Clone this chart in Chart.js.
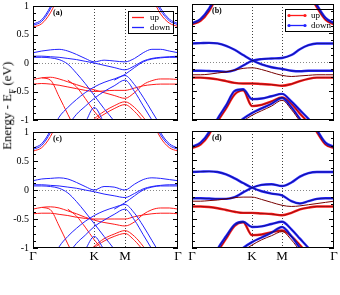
<!DOCTYPE html>
<html>
<head>
<meta charset="utf-8">
<script src="https://cdn.jsdelivr.net/npm/chart.js@4.4.1/dist/chart.umd.min.js"></script>
<style>
  body { margin: 0; background: #fff; width: 340px; height: 295px; position: relative; overflow: hidden; }
  canvas { position: absolute; }
  #ylab { position: absolute; left: -42px; top: 97px; width: 100px; line-height: 16px; text-align: center;
          transform: rotate(-90deg); font: 13px "Liberation Serif"; white-space: nowrap; }
  #ylab sub { font-size: 9px; }
</style>
</head>
<body>
<canvas id="pa" width="180" height="134" style="left:0;top:-4px"></canvas>
<canvas id="pb" width="160" height="134" style="left:180px;top:-4px"></canvas>
<canvas id="pc" width="186" height="173" style="left:0;top:122px"></canvas>
<canvas id="pd" width="160" height="173" style="left:180px;top:122px"></canvas>
<div id="ylab">Energy - E<sub>F</sub> (eV)</div>
<script>
const _ = null;
// k path Γ-K-M-Γ (fraction of total length)
const kGrid = [0, 0.06, 0.12, 0.18, 0.24, 0.30, 0.36, 0.4226, 0.49, 0.56, 0.634, 0.70, 0.76, 0.82, 0.88, 0.94, 1];
const kTicks = [0, 0.4226, 0.634, 1];
const kLabels = ['Γ', 'K', 'M', 'Γ'];
const eTicks = [1, 0.5, 0, -0.5, -1];

// panel (a)
const aDown = [
  [0.66, 0.73, 0.95, 1.3, _, _, _, _, _, _, _, _, _, 1.2, 0.92, 0.74, 0.67],
  [0.68, 0.76, 0.99, 1.35, _, _, _, _, _, _, _, _, _, 1.25, 0.96, 0.77, 0.69],
  [0.18, 0.21, 0.23, 0.24, 0.21, 0.15, 0.08, 0.02, 0.05, 0.035, 0.02, 0.08, 0.18, 0.24, 0.24, 0.21, 0.18],
  [0.12, 0.12, 0.11, 0.10, 0.08, 0.06, 0.03, 0.0, -0.04, -0.08, -0.12, -0.05, 0.035, 0.08, 0.10, 0.11, 0.12],
  [0.10, 0.10, 0.09, 0.06, -0.02, -0.18, -0.36, -0.57, -0.8, -1.02, -1.3, _, _, _, _, _, _],
  [_, _, _, _, _, _, _, _, _, -0.3, -0.2, -0.08, 0.02, 0.07, 0.09, 0.10, 0.10],
  [_, _, -1.25, -0.95, -0.78, -0.64, -0.52, -0.42, -0.34, -0.28, -0.22, -0.38, -0.6, -0.85, -1.1, _, _],
  [_, _, _, _, -1.1, -0.9, -0.76, -0.62, -0.5, -0.4, -0.3, -0.5, -0.75, -1.0, -1.25, _, _],
  [_, _, _, _, _, _, -1.05, -0.78, -1.05, _, _, _, _, _, _, _, _]
];
const aUp = [
  [0.63, 0.69, 0.88, 1.2, _, _, _, _, _, _, _, _, _, 1.15, 0.86, 0.70, 0.64],
  [-0.29, -0.26, -0.25, -0.28, -0.33, -0.38, -0.43, -0.47, -0.52, -0.57, -0.62, -0.52, -0.38, -0.31, -0.28, -0.28, -0.29],
  [-0.37, -0.36, -0.37, -0.39, -0.42, -0.45, -0.48, -0.50, -0.49, -0.48, -0.48, -0.44, -0.40, -0.38, -0.37, -0.37, -0.37],
  [_, -0.26, -0.30, -0.59, -0.9, -1.2, _, _, _, _, _, _, _, _, _, _, _],
  [_, _, _, _, _, _, -1.15, -0.98, -0.85, -0.75, -0.68, -0.78, -0.95, -1.15, _, _, _],
  [_, _, _, _, _, _, -1.2, -1.02, -0.9, -0.8, -0.73, -0.85, -1.02, -1.2, _, _, _],
  [_, _, _, _, -0.3, -0.42, -0.62, -0.85, -1.05, -1.3, _, _, _, _, _, _, _]
];

// panel (c)
const cDown = [
  [0.70, 0.77, 0.99, 1.35, _, _, _, _, _, _, _, _, _, 1.25, 0.95, 0.77, 0.70],
  [0.72, 0.80, 1.03, 1.4, _, _, _, _, _, _, _, _, _, 1.3, 0.99, 0.80, 0.72],
  [0.16, 0.19, 0.20, 0.21, 0.19, 0.13, 0.06, 0.0, 0.06, 0.05, 0.0, 0.1, 0.18, 0.21, 0.20, 0.18, 0.16],
  [0.09, 0.09, 0.08, 0.07, 0.05, 0.03, 0.0, -0.03, -0.07, -0.10, -0.13, -0.06, 0.02, 0.06, 0.08, 0.09, 0.09],
  [0.07, 0.07, 0.06, 0.03, -0.05, -0.2, -0.38, -0.58, -0.8, -1.02, -1.3, _, _, _, _, _, _],
  [_, _, _, _, _, _, _, _, _, -0.33, -0.22, -0.1, 0.0, 0.05, 0.07, 0.07, 0.07],
  [_, _, -1.28, -0.98, -0.8, -0.66, -0.54, -0.44, -0.36, -0.3, -0.25, -0.4, -0.62, -0.87, -1.12, _, _],
  [_, _, _, _, -1.12, -0.92, -0.78, -0.63, -0.52, -0.42, -0.33, -0.52, -0.77, -1.02, -1.27, _, _],
  [_, _, _, _, _, _, -1.03, -0.8, -1.03, _, _, _, _, _, _, _, _]
];
const cUp = [
  [0.67, 0.73, 0.92, 1.25, _, _, _, _, _, _, _, _, _, 1.2, 0.9, 0.73, 0.67],
  [-0.33, -0.30, -0.29, -0.31, -0.36, -0.41, -0.47, -0.52, -0.56, -0.59, -0.62, -0.55, -0.42, -0.34, -0.31, -0.31, -0.33],
  [-0.41, -0.40, -0.40, -0.42, -0.44, -0.47, -0.49, -0.50, -0.50, -0.50, -0.50, -0.46, -0.43, -0.41, -0.40, -0.40, -0.41],
  [_, -0.30, -0.34, -0.62, -0.93, -1.23, _, _, _, _, _, _, _, _, _, _, _],
  [_, _, _, _, _, _, -1.12, -0.97, -0.84, -0.76, -0.70, -0.8, -0.97, -1.17, _, _, _],
  [_, _, _, _, _, _, -1.18, -1.0, -0.88, -0.8, -0.75, -0.87, -1.04, -1.22, _, _, _],
  [_, _, _, _, -0.33, -0.45, -0.64, -0.86, -1.06, -1.3, _, _, _, _, _, _, _]
];

// panel (b) fat bands
const bDown = [
  [0.67, 0.74, 0.92, 1.2, _, _, _, _, _, _, _, _, _, 1.25, 0.98, 0.76, 0.67],
  [0.32, 0.325, 0.33, 0.32, 0.28, 0.21, 0.12, 0.03, -0.04, -0.09, -0.12, -0.15, -0.16, -0.15, -0.15, -0.15, -0.15],
  [-0.15, -0.15, -0.155, -0.16, -0.17, -0.14, -0.06, 0.02, 0.05, 0.06, 0.07, 0.12, 0.22, 0.29, 0.32, 0.32, 0.32],
  [_, _, -1.3, -0.98, -0.75, -0.5, -0.47, -0.64, -0.63, -0.59, -0.55, -0.68, -0.83, -0.98, -1.15, _, _],
  [_, _, _, _, _, -1.1, -0.98, -0.88, -0.8, -0.72, -0.62, -0.78, -0.98, -1.18, _, _, _]
];
const bUp = [
  [0.65, 0.71, 0.88, 1.15, _, _, _, _, _, _, _, _, _, 1.2, 0.94, 0.73, 0.65],
  [-0.27, -0.27, -0.28, -0.30, -0.33, -0.36, -0.37, -0.37, -0.38, -0.39, -0.41, -0.38, -0.33, -0.29, -0.27, -0.27, -0.27],
  [_, _, -1.35, -1.03, -0.8, -0.56, -0.49, -0.76, -0.74, -0.68, -0.61, -0.72, -0.89, -1.05, -1.25, _, _]
];
const bThin = [
  [-0.22, -0.22, -0.21, -0.19, -0.17, -0.14, -0.11, -0.10, -0.13, -0.18, -0.23, -0.25, -0.24, -0.23, -0.22, -0.22, -0.22],
  [_, _, _, _, _, -1.15, -1.02, -0.92, -0.84, -0.76, -0.66, -0.82, -1.02, -1.22, _, _, _]
];

// panel (d) fat bands
const dDown = [
  [0.73, 0.80, 0.98, 1.3, _, _, _, _, _, _, _, _, _, 1.3, 1.02, 0.80, 0.73],
  [0.30, 0.305, 0.31, 0.30, 0.26, 0.19, 0.11, 0.03, -0.03, -0.07, -0.10, -0.2, -0.24, -0.2, -0.16, -0.15, -0.15],
  [-0.15, -0.15, -0.155, -0.16, -0.16, -0.13, -0.05, 0.03, 0.08, 0.09, 0.06, 0.12, 0.22, 0.28, 0.30, 0.30, 0.30],
  [_, _, -1.32, -1.02, -0.8, -0.6, -0.55, -0.64, -0.63, -0.59, -0.55, -0.68, -0.84, -1.0, -1.18, _, _],
  [_, _, _, _, _, -1.12, -1.0, -0.9, -0.82, -0.74, -0.64, -0.8, -1.0, -1.2, _, _, _]
];
const dUp = [
  [0.71, 0.77, 0.94, 1.25, _, _, _, _, _, _, _, _, _, 1.25, 0.98, 0.77, 0.71],
  [-0.29, -0.29, -0.30, -0.32, -0.35, -0.38, -0.40, -0.40, -0.41, -0.42, -0.44, -0.40, -0.34, -0.31, -0.29, -0.29, -0.29],
  [_, _, -1.38, -1.07, -0.84, -0.62, -0.56, -0.78, -0.77, -0.73, -0.70, -0.8, -0.95, -1.12, -1.3, _, _]
];
const dThin = [
  [-0.20, -0.20, -0.19, -0.18, -0.16, -0.14, -0.13, -0.13, -0.17, -0.22, -0.27, -0.29, -0.28, -0.26, -0.24, -0.22, -0.20],
  [_, _, _, _, _, -1.17, -1.05, -0.95, -0.86, -0.79, -0.72, -0.86, -1.05, -1.25, _, _, _]
];

const RED = '#ff1a1a', BLUE = '#2222ff';

function line(band, color, width, order) {
  return {
    data: kGrid.map((k, i) => ({ x: k, y: band[i] })),
    borderColor: color, borderWidth: width, pointRadius: 0, order: order,
    cubicInterpolationMode: 'monotone', spanGaps: false, clip: 0, fill: false
  };
}
const thin = (bands, color) => bands.map(b => line(b, color, 1, 2));
const fat = (bands, color, order) => bands.map(b => line(b, color, 2.4, order))
  .concat(bands.map(b => line(b, 'rgba(0,0,0,0.8)', 0.5, 1)));

const frame = {
  id: 'frame',
  beforeDatasetsDraw(chart) {
    const { ctx, chartArea: a, scales: { x, y } } = chart;
    ctx.save();
    ctx.lineWidth = 1;
    ctx.setLineDash([1, 2]);
    ctx.strokeStyle = '#444';
    [kTicks[1], kTicks[2]].forEach(k => {
      const px = Math.round(x.getPixelForValue(k)) + 0.5;
      ctx.beginPath(); ctx.moveTo(px, a.top); ctx.lineTo(px, a.bottom); ctx.stroke();
    });
    ctx.strokeStyle = '#888';
    const py = Math.round(y.getPixelForValue(0)) + 0.5;
    ctx.beginPath(); ctx.moveTo(a.left, py); ctx.lineTo(a.right, py); ctx.stroke();
    ctx.restore();
  },
  afterDraw(chart, args, o) {
    const { ctx, chartArea: a, scales: { y } } = chart;
    ctx.save();
    ctx.strokeStyle = '#000';
    ctx.lineWidth = 1;
    ctx.strokeRect(a.left + 0.5, a.top + 0.5, a.right - a.left - 1, a.bottom - a.top - 1);
    // inward ticks on both sides
    for (let v = -1; v <= 1.001; v += 0.125) {
      const py = Math.round(y.getPixelForValue(v)) + 0.5;
      const len = Math.abs(v * 2 - Math.round(v * 2)) < 0.01 ? 5 : 3;
      ctx.beginPath();
      ctx.moveTo(a.left, py); ctx.lineTo(a.left + len, py);
      ctx.moveTo(a.right, py); ctx.lineTo(a.right - len, py);
      ctx.stroke();
    }
    ctx.fillStyle = '#000';
    ctx.font = 'bold 8px "Liberation Serif"';
    ctx.textBaseline = 'middle';
    ctx.fillText(o.label, a.left + 20, a.top + 7);
    if (o.legend) {
      const pts = o.legend === 'pts';
      const x1 = a.right - (pts ? 49 : 50), x2 = a.right - (pts ? 1 : 5);
      const y1 = a.top + 5;
      ctx.strokeStyle = '#000';
      ctx.strokeRect(x1 + 0.5, y1 + 0.5, x2 - x1, 22);
      ctx.font = '9px "Liberation Serif"';
      [['up', RED, 6], ['down', BLUE, 16]].forEach(([t, c, dy]) => {
        const ly = y1 + dy + 0.5;
        const lx1 = x1 + 4, lx2 = x1 + (pts ? 20 : 16);
        ctx.strokeStyle = c;
        ctx.lineWidth = 1.3;
        ctx.beginPath(); ctx.moveTo(lx1, ly); ctx.lineTo(lx2, ly); ctx.stroke();
        if (pts) {
          ctx.fillStyle = c;
          [lx1, lx2].forEach(px => { ctx.beginPath(); ctx.arc(px, ly, 1.6, 0, Math.PI * 2); ctx.fill(); });
        }
        ctx.fillStyle = '#000';
        ctx.fillText(t, x1 + (pts ? 26 : 22), ly);
      });
    }
    ctx.restore();
  }
};

function cfg(p) {
  return {
    type: 'line',
    data: { datasets: p.sets },
    options: {
      responsive: false, animation: false, events: [],
      layout: { padding: { top: p.top, right: p.right, left: 0, bottom: 0 } },
      plugins: { legend: { display: false }, tooltip: { enabled: false }, frame: { label: p.label, legend: p.legend } },
      scales: {
        x: {
          type: 'linear', min: 0, max: 1,
          grid: { display: false, drawTicks: false }, border: { display: false },
          afterBuildTicks: s => { s.ticks = kTicks.map(v => ({ value: v })); },
          ticks: { display: p.xLabels, autoSkip: false, maxRotation: 0, padding: 1, color: '#000',
                   font: { family: '"Liberation Serif"', size: 13 }, callback: (v, i) => kLabels[i] },
          afterFit: s => { s.height = p.xHeight; }
        },
        y: {
          type: 'linear', min: -1, max: 1,
          grid: { display: false, drawTicks: false }, border: { display: false },
          afterBuildTicks: s => { s.ticks = eTicks.map(v => ({ value: v })); },
          ticks: { display: p.yLabels, padding: 4, color: '#000',
                   font: { family: '"Liberation Serif"', size: 10 }, callback: v => String(v) },
          afterFit: s => { s.width = p.yWidth; }
        }
      }
    },
    plugins: [frame]
  };
}

new Chart(document.getElementById('pa'), cfg({
  sets: thin(aDown, BLUE).concat(thin(aUp, RED)),
  top: 8, right: 2, yWidth: 33, xHeight: 10, yLabels: true, xLabels: false, label: '(a)', legend: 'line'
}));
new Chart(document.getElementById('pb'), cfg({
  sets: fat(bDown, BLUE, 3).concat(fat(bUp, RED, 4), bThin.map(b => line(b, '#700', 1, 1))),
  top: 8, right: 6, yWidth: 12, xHeight: 10, yLabels: false, xLabels: false, label: '(b)', legend: 'pts'
}));
new Chart(document.getElementById('pc'), cfg({
  sets: thin(cDown, BLUE).concat(thin(cUp, RED)),
  top: 9, right: 8, yWidth: 33, xHeight: 47, yLabels: true, xLabels: true, label: '(c)', legend: null
}));
new Chart(document.getElementById('pd'), cfg({
  sets: fat(dDown, BLUE, 3).concat(fat(dUp, RED, 4), dThin.map(b => line(b, '#700', 1, 1))),
  top: 9, right: 6, yWidth: 12, xHeight: 47, yLabels: false, xLabels: true, label: '(d)', legend: null
}));
</script>
</body>
</html>
